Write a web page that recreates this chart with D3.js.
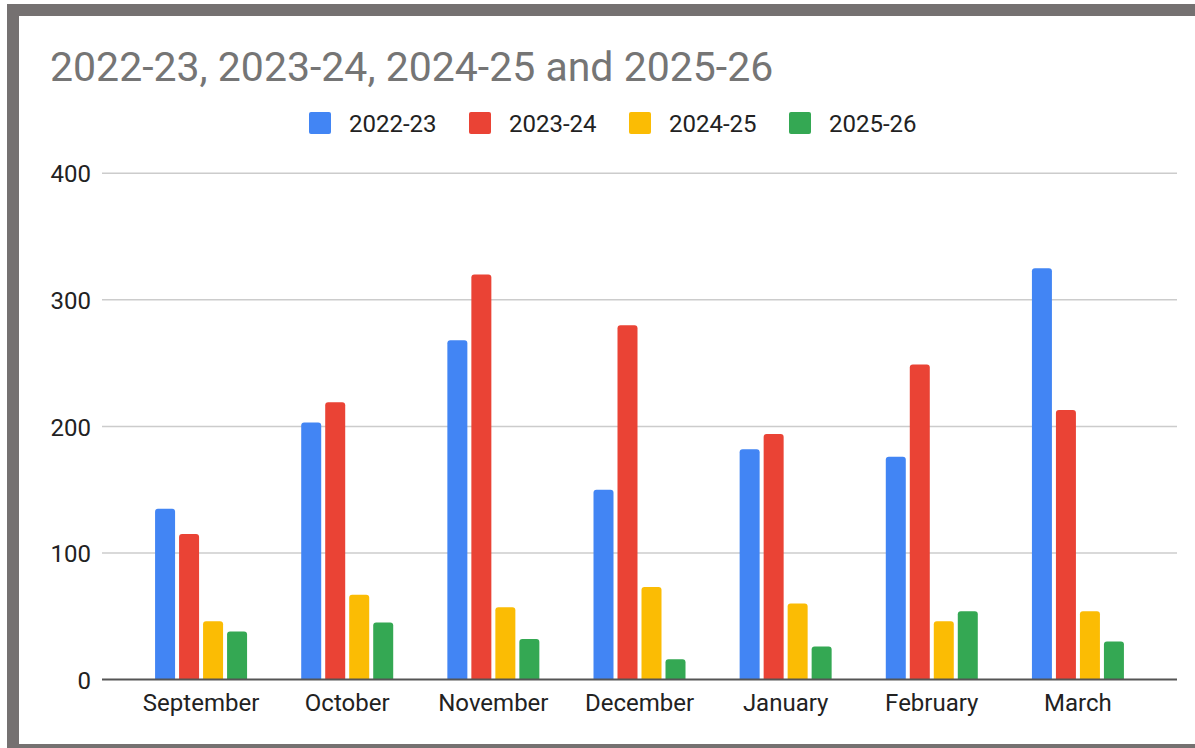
<!DOCTYPE html>
<html>
<head>
<meta charset="utf-8">
<script src="https://cdn.jsdelivr.net/npm/d3@7"></script>
<style>
  html, body { margin: 0; padding: 0; background: #fff; }
  svg { display: block; font-family: Roboto, Arial, sans-serif; }
</style>
</head>
<body>
<div id="chart"></div>
<script>
// Grouped columns, four school years by month

var months = ["September", "October", "November", "December", "January", "February", "March"];
var seriesNames = ["2022-23", "2023-24", "2024-25", "2025-26"];
var seriesColors = ["#4285f4", "#ea4335", "#fbbc04", "#34a853"];
var yTicks = [0, 100, 200, 300, 400];

var values2223 = [135, 203, 268, 150, 182, 176, 325];
var values2324 = [115, 219, 320, 280, 194, 249, 213];
var values2425 = [46, 67, 57, 73, 60, 46, 54];
var values2526 = [38, 45, 32, 16, 26, 54, 30];

var allSeries = [values2223, values2324, values2425, values2526];

var svgWidth = 1195;
var svgHeight = 748;

var svg = d3.select("#chart")
    .append("svg")
    .attr("width", svgWidth)
    .attr("height", svgHeight);

// gray frame (top, left, bottom only)
var frame = "#757171";
svg.append("rect").attr("x", 7).attr("y", 4).attr("width", svgWidth - 7).attr("height", 12).attr("fill", frame);
svg.append("rect").attr("x", 7).attr("y", 4).attr("width", 12).attr("height", svgHeight - 4).attr("fill", frame);
svg.append("rect").attr("x", 7).attr("y", 744).attr("width", svgWidth - 7).attr("height", 4).attr("fill", frame);

// title
svg.append("text")
    .attr("x", 50)
    .attr("y", 81)
    .attr("fill", "#757575")
    .style("font-size", "41px")
    .text("2022-23, 2023-24, 2024-25 and 2025-26");

// legend
var legend = svg.append("g");
seriesNames.forEach(function(name, i) {
    var lx = 309 + i * 160;
    legend.append("rect")
        .attr("x", lx)
        .attr("y", 112)
        .attr("width", 22)
        .attr("height", 22)
        .attr("rx", 2)
        .attr("fill", seriesColors[i]);
    legend.append("text")
        .attr("x", lx + 40)
        .attr("y", 132)
        .attr("fill", "#222")
        .style("font-size", "24px")
        .text(name);
});

// scales
var gridLeft = 102, gridRight = 1177;
var yScale = d3.scaleLinear().domain([0, 400]).range([679.5, 173.3]);

var x0 = d3.scaleBand()
    .domain(months)
    .range([128, 1151])
    .padding(0);

var x1 = d3.scaleBand()
    .domain(seriesNames)
    .range([0, 92])
    .paddingInner(4 / 24);

// gridlines
svg.append("g")
    .selectAll("line")
    .data(yTicks.filter(function(t) { return t > 0; }))
    .enter()
    .append("line")
    .attr("x1", gridLeft)
    .attr("x2", gridRight)
    .attr("y1", function(d) { return yScale(d); })
    .attr("y2", function(d) { return yScale(d); })
    .attr("stroke", "#cccccc")
    .attr("stroke-width", 1.5);

// y axis labels
var leftAxis = d3.axisLeft(yScale).tickValues(yTicks).tickSize(0).tickPadding(0);
var yAxis = svg.append("g")
    .attr("transform", "translate(91,0)")
    .call(leftAxis);
yAxis.select(".domain").remove();
yAxis.selectAll("text")
    .attr("fill", "#222")
    .attr("dy", "0.36em")
    .style("font-size", "24px")
    .style("font-family", "Roboto, Arial, sans-serif");

// rounded-top bar path
function barPath(x, y, w, h, r) {
    r = Math.min(r, h, w / 2);
    return "M" + x + "," + (y + h) +
        "V" + (y + r) +
        "Q" + x + "," + y + " " + (x + r) + "," + y +
        "H" + (x + w - r) +
        "Q" + (x + w) + "," + y + " " + (x + w) + "," + (y + r) +
        "V" + (y + h) + "Z";
}

// bars
var groups = svg.append("g")
    .selectAll("g")
    .data(months)
    .enter()
    .append("g")
    .attr("transform", function(m) {
        return "translate(" + (x0(m) + x0.bandwidth() / 2 - 46) + ",0)";
    });

groups.selectAll("path")
    .data(function(m, mi) {
        return seriesNames.map(function(s, si) {
            return { series: s, value: allSeries[si][mi], color: seriesColors[si] };
        });
    })
    .enter()
    .append("path")
    .attr("d", function(d) {
        var top = yScale(d.value);
        return barPath(x1(d.series), top, x1.bandwidth(), yScale(0) - top, 3);
    })
    .attr("fill", function(d) { return d.color; });

// baseline
svg.append("line")
    .attr("x1", gridLeft)
    .attr("x2", gridRight)
    .attr("y1", yScale(0))
    .attr("y2", yScale(0))
    .attr("stroke", "#555")
    .attr("stroke-width", 2);

// x axis labels
var bottomAxis = d3.axisBottom(x0).tickSize(0).tickPadding(0);
var xAxis = svg.append("g")
    .attr("transform", "translate(0,711)")
    .call(bottomAxis);
xAxis.select(".domain").remove();
xAxis.selectAll("text")
    .attr("fill", "#222")
    .attr("dy", 0)
    .style("font-size", "24px")
    .style("font-family", "Roboto, Arial, sans-serif");
</script>
</body>
</html>
